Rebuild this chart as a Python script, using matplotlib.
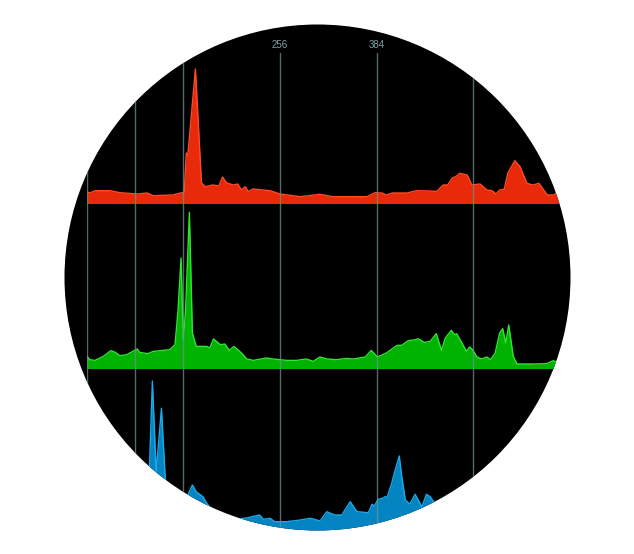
#!/usr/bin/env python3
"""Circular RGB histogram view: three stacked channel areas inside a black disc."""

import matplotlib

matplotlib.use("Agg")
import matplotlib.pyplot as plt
from matplotlib.patches import Circle
from matplotlib.transforms import IdentityTransform


W, H, DPI = 634, 554, 100

TICKS = [0, 64, 128, 256, 384, 512]
# only 256 and 384 sit inside the disc; the others fall outside it
TICK_LABELS = ["", "", "", "256", "384", ""]

RED_BINS = [0, 4, 11, 31, 44, 67, 80, 88, 114, 126, 129, 132, 134, 144, 152,
            157, 167, 175, 180, 185, 194, 200, 205, 210, 214, 220, 243, 256,
            273, 283, 309, 326, 371, 382, 391, 397, 405, 424, 437, 464, 472,
            478, 484, 490, 494, 504, 510, 521, 530, 537, 542, 547, 553, 558,
            567, 574, 583, 591, 599, 610, 618, 623, 630, 640]
RED_VALUES = [11.3, 10, 12.3, 12.3, 10.3, 9, 10, 7.3, 8, 10.3, 9.7, 50, 48,
              134, 20, 16.3, 18, 17, 26, 20.3, 18, 19, 13, 16.3, 11.3, 14,
              12.3, 9, 7.3, 6.3, 8.7, 6.3, 6.3, 10.3, 10, 8, 10, 10, 12.3,
              11.7, 18, 18, 24.7, 27, 29.7, 28, 18, 19, 13, 12.3, 9, 13, 13.7,
              30.3, 42.3, 36.3, 19.7, 18, 19.7, 8, 8, 10, 9, 8]

GREEN_BINS = [0, 4, 11, 22, 32, 37, 44, 53, 61, 67, 70, 81, 88, 97, 110, 117,
              121, 125, 128, 131, 136, 140, 145, 159, 163, 168, 177, 183, 189,
              195, 205, 212, 221, 238, 247, 265, 278, 291, 300, 309, 318, 331,
              344, 353, 369, 377, 385, 397, 411, 417, 426, 435, 439, 447, 455,
              463, 470, 475, 483, 487, 490, 497, 503, 507, 511, 517, 523, 530,
              535, 541, 547, 551, 555, 559, 565, 570, 592, 609, 618, 620, 630,
              640]
GREEN_VALUES = [12.3, 8.3, 7.6, 11.6, 17.3, 16, 12.3, 13.3, 16.6, 19, 15.6,
                14.3, 16.6, 17.3, 18.3, 23.3, 58.3, 110, 28.3, 58.3, 155.6, 35,
                21.6, 21.6, 20, 29, 23.3, 24, 17.6, 21.6, 15, 9, 7.6, 10, 9,
                7.6, 7.6, 9, 6.6, 11, 9, 8.3, 9.6, 9, 11, 17.6, 11, 15, 22.6,
                22.6, 27.3, 28.3, 29.3, 25.6, 26.6, 34.3, 17.6, 30, 37.6, 33.3,
                34.3, 25, 16.6, 21, 18.3, 11, 9, 11, 8.3, 15, 35, 39.3, 25, 43,
                11.6, 4, 4, 4.3, 7.3, 6.6, 5, 5]

BLUE_BINS = [0, 20, 40, 60, 75, 82, 87, 92, 99, 104, 112, 122, 130, 135, 140,
             145, 154, 159, 170, 185, 200, 212, 219, 229, 234, 243, 249, 265,
             283, 296, 300, 309, 318, 325, 329, 338, 342, 349, 358, 373, 378,
             381, 386, 392, 395, 398, 404, 408, 414, 417, 422, 428, 435, 439,
             444, 450, 455, 465, 480, 500, 520, 540, 560, 580, 600, 620, 640]
BLUE_VALUES = [8, 12, 16, 22, 30, 40, 152, 61, 124.7, 54.7, 35, 30, 28, 39.7,
               48, 41.3, 36.3, 29.7, 20, 18, 14, 15, 16.3, 18, 13.7, 14.7,
               11.3, 11.3, 13, 14.7, 14, 12, 21.3, 19, 18, 18, 23, 31.3, 21.3,
               20.3, 28.7, 27, 33.7, 34.7, 36.3, 35.7, 49.7, 61.3, 77, 58, 33,
               29, 38.7, 33, 26.3, 38.7, 36.3, 25, 20, 18, 15, 12, 10, 8, 8, 7,
               6]


def px_box(left, top, width, height):
    # pixel box (from top-left) -> figure fraction rect
    return [left / W, (H - top - height) / H, width / W, height / H]


def channel(fig, disc, top, bins, values, fill, edge):
    ax = fig.add_axes(px_box(86.7, top, 640 * 0.755, 165))
    ax.set_xlim(0, 640)
    ax.set_ylim(0, 165)
    ax.set_facecolor("none")
    ax.axis("off")
    area = ax.fill_between(bins, values, color=fill, lw=0)
    line, = ax.plot(bins, values, color=edge, lw=1)
    area.set_clip_path(disc)
    line.set_clip_path(disc)
    return ax


def main() -> int:
    fig = plt.figure(figsize=(W / DPI, H / DPI), dpi=DPI)
    fig.patch.set_facecolor("white")

    disc = Circle((317.5, H - 277.5), 253, transform=IdentityTransform(),
                  facecolor="black", edgecolor="none", zorder=-1)
    fig.add_artist(disc)

    channel(fig, disc, 38, RED_BINS, RED_VALUES, "#e8290a", "#ff4a26")
    channel(fig, disc, 203, GREEN_BINS, GREEN_VALUES, "#00b300", "#2ee62e")
    channel(fig, disc, 368, BLUE_BINS, BLUE_VALUES, "#0485c2", "#1aa9ea")

    # gridlines + top labels, drawn over the channels
    grid = fig.add_axes(px_box(86.7, 53, 640 * 0.755, H - 53))
    grid.set_zorder(5)
    grid.set_facecolor("none")
    grid.set_xlim(0, 640)
    grid.set_ylim(0, 1)
    for side in grid.spines.values():
        side.set_visible(False)
    grid.set_yticks([])
    grid.set_xticks(TICKS)
    grid.set_xticklabels(TICK_LABELS)
    grid.xaxis.tick_top()
    grid.tick_params(axis="x", length=0, pad=2.5, labelsize=7,
                     labelcolor="#7ea2a4")
    grid.grid(axis="x", color="#6f8f91", lw=1, alpha=0.75)
    for tick in grid.xaxis.get_major_ticks():
        tick.label2.set_fontfamily("Liberation Sans")
        tick.gridline.set_clip_path(disc)

    fig.savefig("out.png", dpi=DPI, facecolor="white")
    plt.close(fig)
    return 0


if __name__ == "__main__":
    raise SystemExit(main())
